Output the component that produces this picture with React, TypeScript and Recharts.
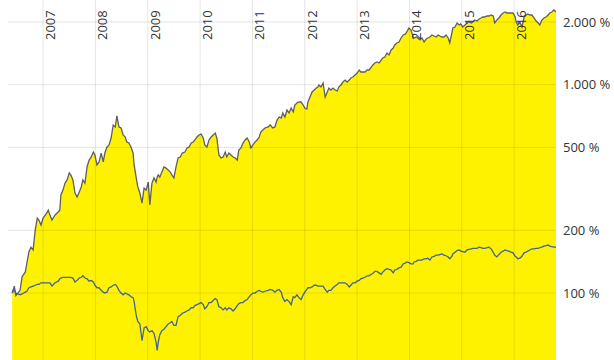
import React from 'react';
import { ComposedChart, Area, Line, XAxis, YAxis, ReferenceLine } from 'recharts';

// decimal years
const dates = [
  2006.41, 2006.45, 2006.48, 2006.56, 2006.60, 2006.66, 2006.69, 2006.73, 2006.77, 2006.81,
  2006.85, 2006.89, 2006.92, 2006.96, 2007.00, 2007.06, 2007.10, 2007.13, 2007.17, 2007.23,
  2007.29, 2007.32, 2007.34, 2007.38, 2007.42, 2007.46, 2007.50, 2007.53, 2007.57, 2007.61,
  2007.65, 2007.69, 2007.73, 2007.76, 2007.80, 2007.84, 2007.88, 2007.92, 2007.96, 2007.99,
  2008.03, 2008.07, 2008.11, 2008.15, 2008.18, 2008.22, 2008.26, 2008.30, 2008.34, 2008.38,
  2008.41, 2008.45, 2008.49, 2008.53, 2008.57, 2008.60, 2008.64, 2008.68, 2008.72, 2008.74,
  2008.78, 2008.81, 2008.85, 2008.89, 2008.93, 2008.97, 2009.01, 2009.04, 2009.08, 2009.12,
  2009.16, 2009.18, 2009.20, 2009.23, 2009.27, 2009.31, 2009.35, 2009.39, 2009.43, 2009.46,
  2009.50, 2009.54, 2009.58, 2009.62, 2009.66, 2009.71, 2009.75, 2009.79, 2009.83, 2009.87,
  2009.90, 2009.94, 2009.98, 2010.02, 2010.06, 2010.09, 2010.13, 2010.17, 2010.21, 2010.25,
  2010.29, 2010.32, 2010.36, 2010.40, 2010.44, 2010.48, 2010.51, 2010.55, 2010.59, 2010.63,
  2010.67, 2010.71, 2010.74, 2010.78, 2010.82, 2010.86, 2010.90, 2010.94, 2010.97, 2011.01,
  2011.05, 2011.09, 2011.13, 2011.16, 2011.20, 2011.24, 2011.30, 2011.34, 2011.39, 2011.43,
  2011.47, 2011.51, 2011.55, 2011.58, 2011.62, 2011.66, 2011.70, 2011.74, 2011.78, 2011.81,
  2011.85, 2011.89, 2011.93, 2011.97, 2012.00, 2012.04, 2012.06, 2012.10, 2012.14, 2012.18,
  2012.22, 2012.25, 2012.27, 2012.31, 2012.35, 2012.39, 2012.43, 2012.46, 2012.50, 2012.54,
  2012.58, 2012.62, 2012.65, 2012.69, 2012.73, 2012.77, 2012.81, 2012.85, 2012.88, 2012.92,
  2012.96, 2013.00, 2013.04, 2013.07, 2013.11, 2013.15, 2013.19, 2013.23, 2013.27, 2013.30,
  2013.34, 2013.38, 2013.42, 2013.46, 2013.49, 2013.53, 2013.57, 2013.61, 2013.65, 2013.69,
  2013.72, 2013.76, 2013.80, 2013.84, 2013.88, 2013.92, 2013.95, 2013.99, 2014.03, 2014.07,
  2014.09, 2014.13, 2014.16, 2014.20, 2014.24, 2014.28, 2014.32, 2014.35, 2014.39, 2014.43,
  2014.47, 2014.51, 2014.55, 2014.58, 2014.62, 2014.66, 2014.70, 2014.74, 2014.77, 2014.81,
  2014.83, 2014.87, 2014.91, 2014.95, 2014.98, 2015.02, 2015.06, 2015.10, 2015.14, 2015.18,
  2015.21, 2015.25, 2015.29, 2015.33, 2015.37, 2015.40, 2015.44, 2015.48, 2015.52, 2015.56,
  2015.60, 2015.63, 2015.67, 2015.71, 2015.75, 2015.79, 2015.83, 2015.86, 2015.90, 2015.94,
  2015.98, 2016.02, 2016.04, 2016.07, 2016.11, 2016.15, 2016.19, 2016.23, 2016.26, 2016.30,
  2016.34, 2016.38, 2016.42, 2016.46, 2016.49, 2016.53, 2016.57, 2016.61, 2016.65, 2016.68,
  2016.72, 2016.76, 2016.80,
];

// fund performance in %
const fund = [
  100, 108, 97, 103, 120, 126, 139, 158, 166, 161,
  201, 229, 224, 212, 229, 240, 250, 237, 224, 237,
  245, 250, 295, 312, 337, 349, 377, 369, 349, 302,
  289, 305, 323, 349, 337, 403, 435, 450, 475, 460,
  412, 426, 470, 426, 470, 502, 514, 555, 641, 627,
  708, 627, 620, 574, 561, 531, 525, 502, 470, 412,
  357, 323, 302, 270, 319, 312, 341, 265, 337, 357,
  341, 360, 369, 360, 381, 403, 398, 390, 381, 369,
  357, 403, 445, 450, 470, 475, 497, 502, 525, 531,
  543, 561, 574, 580, 555, 514, 502, 543, 561, 574,
  586, 555, 460, 445, 450, 475, 450, 470, 460, 450,
  445, 435, 486, 497, 525, 543, 555, 531, 497, 514,
  531, 543, 561, 593, 606, 620, 627, 641, 620, 627,
  677, 700, 692, 732, 700, 756, 732, 773, 740, 799,
  817, 826, 826, 799, 773, 765, 826, 873, 923, 943,
  964, 975, 997, 975, 1019, 873, 923, 964, 943, 964,
  943, 933, 975, 997, 1030, 1053, 1030, 1053, 1077, 1089,
  1113, 1138, 1177, 1151, 1151, 1151, 1177, 1177, 1216, 1243,
  1271, 1285, 1271, 1314, 1344, 1359, 1420, 1389, 1468, 1501,
  1551, 1586, 1604, 1676, 1733, 1750, 1791, 1872, 1831, 1695,
  1676, 1695, 1676, 1640, 1676, 1604, 1658, 1676, 1695, 1733,
  1714, 1695, 1733, 1714, 1695, 1695, 1733, 1676, 1586, 1771,
  1872, 1893, 1978, 1935, 1957, 1893, 1935, 1978, 2000, 1978,
  2000, 2045, 2022, 2068, 2091, 2114, 2114, 2137, 2137, 2161,
  2137, 1978, 2045, 2091, 2161, 2209, 2234, 2209, 2209, 2209,
  2209, 2114, 2000, 1935, 2000, 1893, 2114, 2161, 2185, 2161,
  2161, 2091, 2022, 1978, 1935, 2045, 2091, 2114, 2161, 2209,
  2234, 2284, 2234,
];

// benchmark index in %
const bench = [
  100, 104, 100, 98, 99, 101, 102, 106, 107, 108,
  109, 110, 110, 112, 112, 112, 112, 112, 108, 112,
  114, 117, 118, 119, 119, 119, 119, 119, 118, 113,
  115, 118, 119, 121, 118, 117, 114, 115, 113, 109,
  106, 106, 103, 101, 100, 101, 106, 107, 109, 110,
  108, 103, 100, 98, 100, 99, 98, 96, 95, 91,
  78, 73, 71, 59, 68, 69, 66, 65, 66, 64,
  58, 53, 58, 63, 66, 67, 69, 71, 72, 73,
  70, 70, 77, 78, 80, 81, 82, 83, 85, 85,
  87, 88, 89, 90, 88, 84, 86, 90, 90, 92,
  94, 93, 86, 85, 83, 85, 83, 85, 84, 82,
  84, 87, 89, 90, 90, 92, 93, 96, 98, 100,
  100, 102, 103, 102, 101, 102, 103, 104, 103, 101,
  103, 104, 101, 95, 91, 93, 91, 88, 96, 95,
  98, 95, 93, 98, 101, 104, 106, 106, 107, 109,
  109, 108, 108, 108, 108, 104, 101, 103, 103, 106,
  108, 110, 112, 112, 112, 112, 110, 107, 109, 112,
  112, 114, 115, 117, 118, 119, 121, 121, 123, 124,
  127, 127, 125, 123, 126, 129, 131, 130, 129, 125,
  129, 130, 132, 133, 138, 139, 141, 140, 138, 138,
  141, 142, 144, 144, 144, 146, 146, 147, 144, 149,
  150, 152, 152, 153, 154, 152, 151, 149, 146, 150,
  154, 157, 160, 161, 159, 158, 157, 161, 162, 163,
  164, 164, 164, 166, 165, 164, 164, 165, 166, 163,
  157, 152, 149, 153, 157, 159, 161, 160, 159, 157,
  156, 150, 149, 146, 147, 150, 156, 157, 159, 161,
  163, 163, 164, 164, 165, 166, 168, 169, 170, 168,
  167, 166, 166,
];

const yearTicks = [2007, 2008, 2009, 2010, 2011, 2012, 2013, 2014, 2015, 2016];
const valueTicks = [100, 200, 500, 1000, 2000];

const data = dates.map((t, i) => ({ t, fund: fund[i], bench: bench[i] }));

const FONT = '"Open Sans", sans-serif';
const GRID = 'rgba(0,0,0,0.1)';

const fmt = (v: number) => String(v).replace(/\B(?=(\d{3})+(?!\d))/g, '.') + ' %';

const YearLabel = (year: number) => (props: any) => {
  const vb = props.viewBox || {};
  return (
    <text
      transform={`translate(${vb.x + 12},40) rotate(-90)`}
      textAnchor="start"
      fontFamily={FONT}
      fontSize={13}
      fill="#333"
    >
      {year}
    </text>
  );
};

const ValueTick = (props: any) => {
  const { x, y, payload } = props;
  return (
    <text x={x - 1} y={y} dy={4.5} textAnchor="start" fontFamily={FONT} fontSize={13} fill="#333">
      {fmt(payload.value)}
    </text>
  );
};

export default function App() {
  return (
    <div style={{ position: 'absolute', left: 0, top: 0, background: '#fff' }}>
      <ComposedChart width={614} height={360} data={data} margin={{ top: 0, right: 0, bottom: 0, left: 8 }}>
        <XAxis dataKey="t" type="number" domain={[2006.33, 2016.8]} allowDataOverflow hide />
        <YAxis
          orientation="right"
          scale="log"
          domain={[47.7, 2551]}
          allowDataOverflow
          ticks={valueTicks}
          tick={<ValueTick />}
          axisLine={false}
          tickLine={false}
          width={58}
        />
        <Area
          dataKey="fund"
          type="linear"
          stroke="#5f5f5f"
          strokeWidth={1.3}
          fill="#fff200"
          fillOpacity={1}
          baseValue="dataMin"
          isAnimationActive={false}
          dot={false}
          activeDot={false}
        />
        <Line
          dataKey="bench"
          type="linear"
          stroke="#41639a"
          strokeWidth={1.3}
          dot={false}
          activeDot={false}
          isAnimationActive={false}
        />
        {valueTicks.map((v) => (
          <ReferenceLine key={'h' + v} y={v} stroke={GRID} />
        ))}
        {yearTicks.map((yr) => (
          <ReferenceLine key={'v' + yr} x={yr} stroke={GRID} label={YearLabel(yr)} />
        ))}
      </ComposedChart>
    </div>
  );
}
